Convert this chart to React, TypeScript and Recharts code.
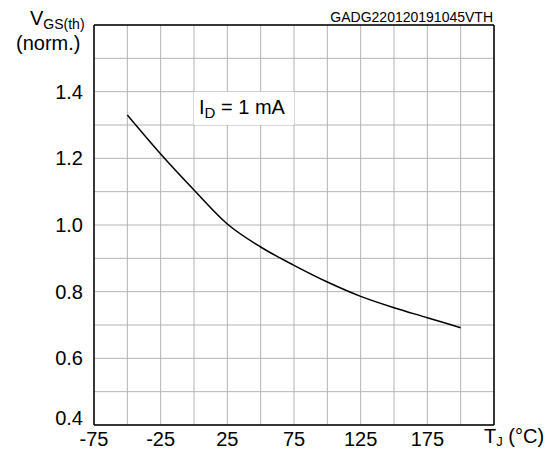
import React from 'react';
import { LineChart, Line, XAxis, YAxis, CartesianGrid, ReferenceArea, ReferenceLine } from 'recharts';

const temps = [-50, -25, 0, 25, 50, 75, 100, 125, 150, 175, 200];
const vgsNorm = [1.33, 1.213, 1.105, 1.003, 0.934, 0.879, 0.829, 0.786, 0.752, 0.722, 0.692];

const xGrid = [-75, -50, -25, 0, 25, 50, 75, 100, 125, 150, 175, 200, 225];
const xLabels = [-75, -25, 25, 75, 125, 175];
const yGrid = [0.4, 0.5, 0.6, 0.7, 0.8, 0.9, 1.0, 1.1, 1.2, 1.3, 1.4, 1.5, 1.6];
const yLabels = [0.4, 0.6, 0.8, 1.0, 1.2, 1.4];

const data = temps.map((t, i) => ({ t, v: vgsNorm[i] }));

const FONT = 'Liberation Sans, Arial, sans-serif';

const YTick = (props: any) => {
  const { x, y, payload } = props;
  const v = payload.value as number;
  if (!yLabels.some((l) => Math.abs(l - v) < 1e-6)) return <g />;
  const shift = Math.abs(v - 0.4) < 1e-6 ? -7 : 0;
  return (
    <text x={x} y={y + shift} dy="0.355em" textAnchor="end" fontSize={20} fontFamily={FONT} fill="#000">
      {v.toFixed(1)}
    </text>
  );
};

export default function App() {
  return (
    <div style={{ position: 'absolute', left: 0, top: 0, width: 555, height: 450, background: '#fff' }}>
      <LineChart width={555} height={450} data={data} margin={{ top: 25, right: 61, bottom: 0, left: 0 }}>
        <CartesianGrid stroke="#b4b4b4" strokeWidth={1} />
        <XAxis
          dataKey="t"
          type="number"
          domain={[-75, 225]}
          ticks={xGrid}
          interval={0}
          tickFormatter={(v: number) => (xLabels.includes(v) ? String(v) : '')}
          tickLine={false}
          tickMargin={1}
          height={25}
          axisLine={{ stroke: '#000', strokeWidth: 1.5 }}
          tick={{ fill: '#000', fontSize: 20, fontFamily: FONT }}
        />
        <YAxis
          type="number"
          domain={[0.4, 1.6]}
          ticks={yGrid}
          interval={0}
          tickLine={false}
          tickMargin={5}
          width={94}
          axisLine={{ stroke: '#000', strokeWidth: 1.5 }}
          tick={<YTick />}
        />
        <ReferenceArea x1={0} x2={75} y1={1.3} y2={1.4} fill="#fff" fillOpacity={1} stroke="none" />
        <ReferenceLine y={1.6} stroke="#000" strokeWidth={1.5} />
        <ReferenceLine x={225} stroke="#000" strokeWidth={1.5} />
        <Line
          dataKey="v"
          type="monotone"
          stroke="#000"
          strokeWidth={1.5}
          dot={false}
          isAnimationActive={false}
        />
      </LineChart>
      <svg width={555} height={450} style={{ position: 'absolute', left: 0, top: 0, pointerEvents: 'none' }}>
        <text x={30} y={25} fontSize={20} fontFamily={FONT} fill="#000">
          V<tspan fontSize={14} dy={4}>GS(th)</tspan>
        </text>
        <text x={16} y={50} fontSize={20} fontFamily={FONT} fill="#000">(norm.)</text>
        <text x={493} y={22} fontSize={14} fontFamily={FONT} fill="#000" textAnchor="end">GADG220120191045VTH</text>
        <text x={199} y={114} fontSize={20} fontFamily={FONT} fill="#000">
          I<tspan fontSize={15} dy={4}>D</tspan><tspan dy={-4}> = 1 mA</tspan>
        </text>
        <text x={484} y={443} fontSize={20} fontFamily={FONT} fill="#000">
          T<tspan fontSize={13} dy={3}>J</tspan><tspan dy={-3}> (°C)</tspan>
        </text>
      </svg>
    </div>
  );
}
